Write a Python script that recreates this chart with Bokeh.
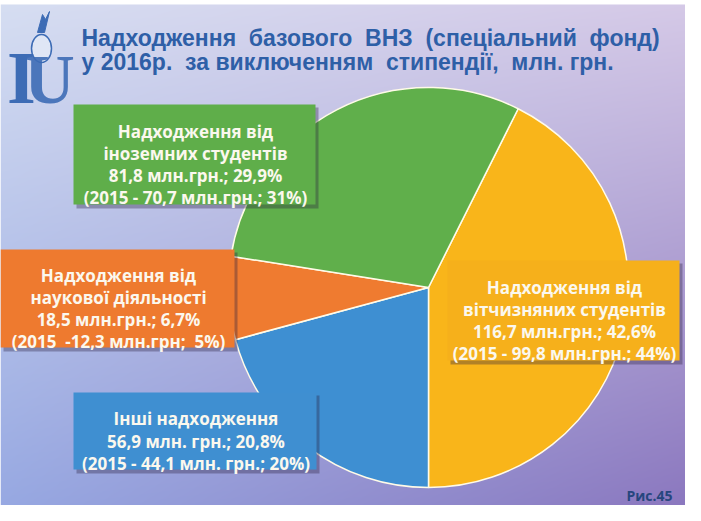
import numpy as np
from bokeh.plotting import figure
from bokeh.models import ColumnDataSource, Range1d
from bokeh.embed import file_html
from bokeh.resources import INLINE
from bokeh.core.properties import value

NB = "\u00a0"

# ---------------- data ----------------
categories = ["Надходження від вітчизняних студентів", "Інші надходження",
              "Надходження від наукової діяльності", "Надходження від іноземних студентів"]
amounts_2016 = [116.7, 56.9, 18.5, 81.8]
shares_2016 = [42.6, 20.8, 6.7, 29.9]
amounts_2015 = [99.8, 44.1, 12.3, 70.7]
shares_2015 = [44, 20, 5, 31]
colors = ["#f9b51a", "#3e8fd2", "#ef7b30", "#60af4b"]

label_lines = [
    ["Надходження від", "вітчизняних студентів", "116,7 млн.грн.; 42,6%", "(2015 - 99,8 млн.грн.; 44%)"],
    ["Інші надходження", "56,9 млн. грн.; 20,8%", "(2015 - 44,1 млн. грн.; 20%)"],
    ["Надходження від", "наукової діяльності", "18,5 млн.грн.; 6,7%", "(2015 " + NB + "-12,3 млн.грн; " + NB + "5%)"],
    ["Надходження від", "іноземних студентів", "81,8 млн.грн.; 29,9%", "(2015 - 70,7 млн.грн.; 31%)"],
]
title_lines = ["Надходження" + NB + " базового" + NB + " ВНЗ" + NB + " (спеціальний" + NB + " фонд)",
               "у 2016р." + NB + " за виключенням" + NB + " стипендії," + NB + " млн. грн."]
figure_label = "Рис.45"

# ---------------- layout ----------------
W, H = 685, 505
TOP = 513  # reference pixel y of the bottom of the plot


def Y(v):
    return TOP - v


p = figure(width=W, height=H, output_backend="svg", toolbar_location=None,
           x_range=Range1d(8, 8 + W), y_range=Range1d(0, H),
           x_axis_type=None, y_axis_type=None, min_border=0)
p.grid.visible = False
p.outline_line_color = None
p.background_fill_color = "white"
p.border_fill_color = "white"

# background gradient (slide spans ref x 8..701, y 12..521)
ih, iw = 501, 685
ys = TOP - (np.arange(ih) + 0.5)
xs = 8 + np.arange(iw) + 0.5
v = ((ys - 12) / (521 - 12))[:, None]
u = ((xs - 8) / (701 - 8))[None, :]
TL = np.array([214, 222, 242]); TR = np.array([213, 201, 231])
BL = np.array([150, 168, 226]); BR = np.array([138, 118, 190])
rgb = ((1 - u)[..., None] * (1 - v)[..., None] * TL + u[..., None] * (1 - v)[..., None] * TR
       + (1 - u)[..., None] * v[..., None] * BL + u[..., None] * v[..., None] * BR)
img = np.empty((ih, iw), dtype=np.uint32)
view = img.view(dtype=np.uint8).reshape((ih, iw, 4))
view[..., 0:3] = np.clip(rgb, 0, 255).astype(np.uint8)
view[..., 3] = 255
p.image_rgba(image=[img], x=8, y=0, dw=iw, dh=ih)

# ---------------- pie ----------------
fr = np.array(shares_2016) / sum(shares_2016)
ang = fr * 2 * np.pi
base = -np.pi / 2 + ang[0]
cum = np.concatenate([[0], np.cumsum(ang)])
src = ColumnDataSource(dict(start=base - cum[:-1], end=base - cum[1:], color=colors,
                            cat=categories, amount=amounts_2016))
cx, cy, r = 436, Y(295), 200
p.wedge(x=cx, y=cy, radius=r, start_angle="start", end_angle="end", direction="clock",
        fill_color="color", line_color="#fffbe8", line_width=1.5, source=src)

# ---------------- label boxes ----------------
boxes = [(455, 687, 268, 368), (81, 324, 400, 477), (8, 242, 257, 355), (81, 323, 112, 212)]
box_colors = ["#f6b01b", "#3f8fd1", "#ee7a2f", "#5fae4a"]
for (l, rt, t, b), col, lines in zip(boxes, box_colors, label_lines):
    p.quad(left=l + 3, right=rt + 3, top=Y(t + 3), bottom=Y(b + 4), fill_color="#2a2040",
           fill_alpha=0.35, line_color=None)
    p.quad(left=l, right=rt, top=Y(t), bottom=Y(b), fill_color=col, line_color=None)
    n = len(lines)
    mid = (t + b) / 2 + 1
    yy = [Y(mid + (i - (n - 1) / 2) * 22.3 + 9) for i in range(n)]
    p.text(x=[(l + rt) / 2 + 1] * n, y=yy, text=lines, text_align="center", text_baseline="alphabetic",
           text_color="#fbf8ee", text_font=value("Open Sans"), text_font_style="bold",
           text_font_size="17px")

# ---------------- title ----------------
p.text(x=[89, 89], y=[Y(45), Y(69)], text=title_lines, text_align="left",
       text_baseline="alphabetic", text_color="#2e5fa7", text_font=value("Liberation Sans"),
       text_font_style="bold", text_font_size="23px")

# ---------------- logo (approximation) ----------------
p.ellipse(x=[49], y=[Y(56)], width=20, height=28, fill_color="#dfe6f5", line_color="#3d6cb5",
          line_width=1.5)
p.text(x=[29], y=[Y(85)], text=["I"], text_align="center", text_baseline="alphabetic",
       text_color="#3d6cb5", text_font=value("Liberation Serif"), text_font_style="bold",
       text_font_size="74px")
p.text(x=[57], y=[Y(87)], text=["U"], text_align="center", text_baseline="alphabetic",
       text_color="#3d6cb5", text_font=value("Liberation Serif"), text_font_style="bold",
       text_font_size="70px", text_alpha=0.9)
p.patch(x=[45, 52, 57, 53, 50], y=[Y(40), Y(40), Y(19), Y(27), Y(22)], fill_color="#3d6cb5",
        line_color="#3d6cb5")

# ---------------- figure label ----------------
p.text(x=[680], y=[Y(503)], text=[figure_label], text_align="right", text_baseline="alphabetic",
       text_color="#26467e", text_font=value("Open Sans"), text_font_style="bold",
       text_font_size="14px")

open("out.html", "w").write(file_html(p, INLINE))
